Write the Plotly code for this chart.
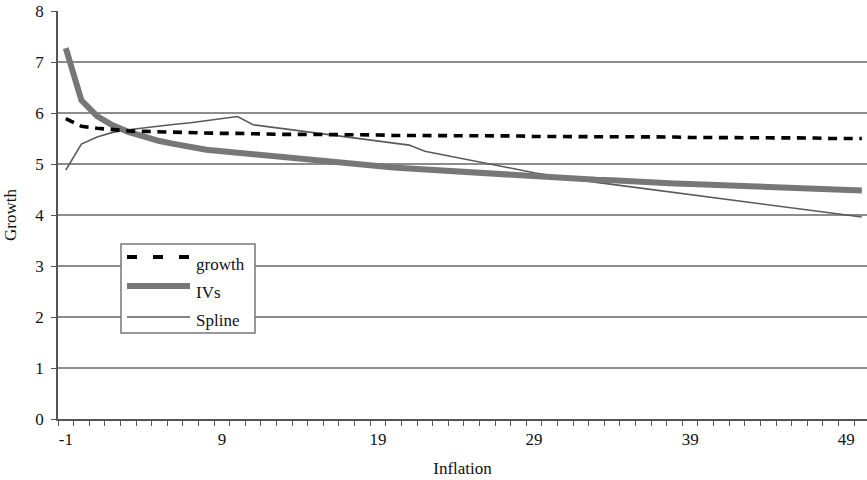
import plotly.graph_objects as go

# Inflation categories (-1 .. 50)
inflation = list(range(-1, 51))

growth = [5.89, 5.74, 5.70, 5.67, 5.65, 5.64, 5.63, 5.62, 5.61, 5.61,
          5.60, 5.60, 5.59, 5.59, 5.58, 5.58, 5.58, 5.57, 5.57, 5.57,
          5.57, 5.56, 5.56, 5.56, 5.56, 5.55, 5.55, 5.55, 5.55, 5.55,
          5.54, 5.54, 5.54, 5.54, 5.54, 5.53, 5.53, 5.53, 5.53, 5.53,
          5.52, 5.52, 5.52, 5.52, 5.52, 5.51, 5.51, 5.51, 5.51, 5.50,
          5.50, 5.50]

ivs = [7.27, 6.25, 5.94, 5.76, 5.63, 5.53, 5.45, 5.39, 5.33, 5.28,
       5.25, 5.22, 5.18, 5.15, 5.12, 5.09, 5.06, 5.03, 5.00, 4.98,
       4.95, 4.93, 4.91, 4.89, 4.87, 4.85, 4.83, 4.82, 4.80, 4.78,
       4.77, 4.75, 4.73, 4.71, 4.69, 4.68, 4.66, 4.65, 4.64, 4.62,
       4.61, 4.60, 4.59, 4.58, 4.57, 4.56, 4.54, 4.53, 4.52, 4.51,
       4.50, 4.48]

spline = [4.88, 5.39, 5.53, 5.62, 5.67, 5.71, 5.75, 5.78, 5.81, 5.85,
          5.89, 5.93, 5.77, 5.73, 5.69, 5.65, 5.61, 5.57, 5.53, 5.49,
          5.45, 5.41, 5.37, 5.25, 5.19, 5.12, 5.06, 5.00, 4.94, 4.89,
          4.83, 4.78, 4.73, 4.68, 4.64, 4.60, 4.56, 4.52, 4.48, 4.44,
          4.40, 4.36, 4.32, 4.29, 4.25, 4.21, 4.17, 4.13, 4.09, 4.05,
          4.01, 3.96]

x_ticks = [-1, 9, 19, 29, 39, 49]
y_ticks = [0, 1, 2, 3, 4, 5, 6, 7, 8]

FONT = "Liberation Serif, Times New Roman, serif"
FS = 17
W, H = 867, 480
ML, MR, MT, MB = 58, 0, 11, 61
PW, PH = W - ML - MR, H - MT - MB


def px(x):
    return (x - ML) / PW


def py(y):
    return (H - MB - y) / PH


fig = go.Figure()
fig.add_trace(go.Scatter(x=inflation, y=spline, mode="lines", name="Spline",
                         line=dict(color="#5a5a5a", width=1.6)))
fig.add_trace(go.Scatter(x=inflation, y=ivs, mode="lines", name="IVs",
                         line=dict(color="#777777", width=6)))
fig.add_trace(go.Scatter(x=inflation, y=growth, mode="lines", name="growth",
                         line=dict(color="#000000", width=3.6, dash="9px,6.6px")))

# legend panel drawn in paper coordinates
shapes = [dict(type="rect", xref="paper", yref="paper",
               x0=px(121), x1=px(255), y0=py(333), y1=py(244),
               line=dict(color="#777777", width=1.5), fillcolor="white", layer="above")]
entries = [("growth", 257, 264, dict(color="#000000", width=4, dash="10px,16px")),
           ("IVs", 286, 292, dict(color="#777777", width=6)),
           ("Spline", 317, 320, dict(color="#5a5a5a", width=1.6))]
annotations = []
for label, ly, ty, ln in entries:
    shapes.append(dict(type="line", xref="paper", yref="paper",
                       x0=px(127), x1=px(190), y0=py(ly), y1=py(ly),
                       line=ln, layer="above"))
    annotations.append(dict(text=label, xref="paper", yref="paper",
                            x=px(194), y=py(ty), xanchor="left", yanchor="middle",
                            showarrow=False, font=dict(family=FONT, size=FS, color="#111")))

fig.update_layout(
    width=W, height=H,
    margin=dict(l=ML, r=MR, t=MT, b=MB),
    paper_bgcolor="white", plot_bgcolor="white",
    showlegend=False,
    font=dict(family=FONT, size=FS, color="#111"),
    shapes=shapes, annotations=annotations,
)
fig.update_xaxes(
    range=[-1.5, 50.33], tickmode="array", tickvals=x_ticks,
    ticktext=[str(v) for v in x_ticks], ticks="",
    showgrid=False, zeroline=False,
    showline=True, linecolor="#555555", linewidth=1.5,
    minor=dict(tickmode="array", tickvals=[v - 0.5 for v in inflation] + [50.5],
               ticks="outside", ticklen=5, tickcolor="#555555", tickwidth=1.2,
               showgrid=False),
    ticklabelstandoff=4,
    title=dict(text="Inflation", font=dict(family=FONT, size=FS), standoff=14),
    tickfont=dict(family=FONT, size=FS),
)
fig.update_yaxes(
    range=[0, 8], tickmode="array", tickvals=y_ticks,
    ticks="outside", ticklen=5, tickcolor="#555555", tickwidth=1.2,
    showgrid=True, gridcolor="#8c8c8c", gridwidth=1.5, zeroline=False,
    showline=True, linecolor="#555555", linewidth=1.5,
    ticklabelstandoff=4,
    title=dict(text="Growth", font=dict(family=FONT, size=FS), standoff=14),
    tickfont=dict(family=FONT, size=FS),
)

fig.write_html("out.html")
